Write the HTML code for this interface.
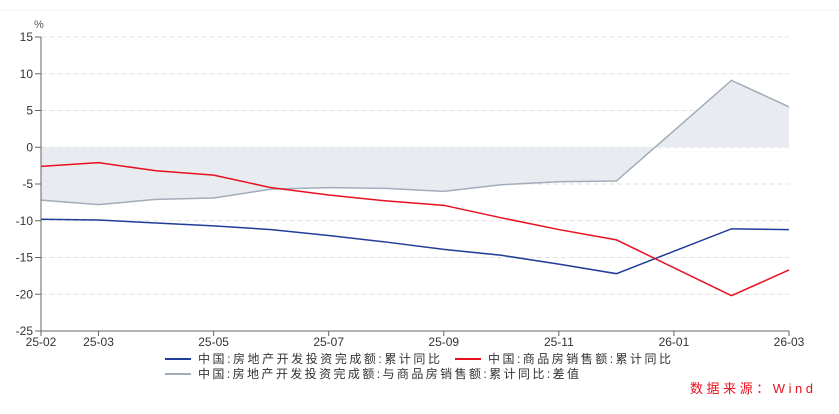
<!DOCTYPE html>
<html><head><meta charset="utf-8"><style>
body{margin:0;background:#fff;}
svg text{font-family:"Liberation Sans","Noto Sans CJK SC",sans-serif;}
</style></head><body>
<svg width="839" height="409" viewBox="0 0 839 409">
<line x1="0" y1="10" x2="839" y2="10" stroke="#f2f2f2"/>
<g id="grid"></g><g id="area"></g><g id="lines"></g><g id="axes"></g>
<text x="34" y="28" font-size="11" fill="#555">%</text>
<line x1="165" y1="359" x2="191" y2="359" stroke="#1f3d99" stroke-width="2"/>
<text x="198" y="363" font-size="12" fill="#333" textLength="242" lengthAdjust="spacing">中国:房地产开发投资完成额:累计同比</text>
<line x1="455" y1="359" x2="481" y2="359" stroke="#e8101f" stroke-width="2"/>
<text x="488" y="363" font-size="12" fill="#333" textLength="183" lengthAdjust="spacing">中国:商品房销售额:累计同比</text>
<line x1="165" y1="374" x2="191" y2="374" stroke="#a3acb9" stroke-width="2"/>
<text x="198" y="378" font-size="12" fill="#333" textLength="381" lengthAdjust="spacing">中国:房地产开发投资完成额:与商品房销售额:累计同比:差值</text>
<text x="690" y="393" font-size="13" fill="#e8101f" textLength="123" lengthAdjust="spacing">数据来源：Wind</text>
</svg>
<script>
const months = ["25-02","25-03","25-04","25-05","25-06","25-07","25-08","25-09","25-10","25-11","25-12","26-02","26-03"];
const monthIndex = [0,1,2,3,4,5,6,7,8,9,10,12,13];
const investment = [-9.8,-9.9,-10.3,-10.7,-11.2,-12.0,-12.9,-13.9,-14.7,-15.9,-17.2,-11.1,-11.2];
const sales = [-2.6,-2.1,-3.2,-3.8,-5.5,-6.5,-7.3,-7.9,-9.6,-11.2,-12.6,-20.2,-16.7];
const difference = [-7.2,-7.8,-7.1,-6.9,-5.7,-5.5,-5.6,-6.0,-5.1,-4.7,-4.6,9.1,5.5];
const yTicks = [15,10,5,0,-5,-10,-15,-20,-25];
const xTickLabels = ["25-02","25-03","25-05","25-07","25-09","25-11","26-01","26-03"];
const xTickIndex = [0,1,3,5,7,9,11,13];

const NS="http://www.w3.org/2000/svg";
const X0=41,X1=789,Y0=37,Y1=331;
const x=i=>X0+(X1-X0)*i/13;
const y=v=>Y0+(15-v)*(Y1-Y0)/40;
function mk(tag,attrs,parent){const e=document.createElementNS(NS,tag);for(const k in attrs)e.setAttribute(k,attrs[k]);document.getElementById(parent).appendChild(e);return e;}

yTicks.forEach(v=>{
  if(v!==-25){const g=mk('line',{x1:X0,x2:X1,y1:y(v),y2:y(v),stroke:'#e3e3e3','stroke-dasharray':'5,3'},'grid');
  
  }
  const t=mk('line',{x1:X0-6,x2:X0,y1:y(v),y2:y(v),stroke:'#666'},'axes');
  
  
  const l=mk('text',{x:X0-8,y:y(v)+4,'text-anchor':'end','font-size':'12',fill:'#333'},'axes');
  l.textContent=v;
  
  
});
const ya=mk('line',{x1:X0,x2:X0,y1:Y0,y2:Y1,stroke:'#666'},'axes');


const xa=mk('line',{x1:X0,x2:X1,y1:Y1,y2:Y1,stroke:'#666'},'axes');


xTickLabels.forEach((s,k)=>{
  const t=mk('line',{x1:x(xTickIndex[k]),x2:x(xTickIndex[k]),y1:Y1,y2:Y1+5,stroke:'#666'},'axes');
  
  
  const l=mk('text',{x:x(xTickIndex[k]),y:Y1+15,'text-anchor':'middle','font-size':'12',fill:'#333'},'axes');
  l.textContent=s;
  
  
});

let d='M'+x(monthIndex[0])+','+y(0);
difference.forEach((v,i)=>{d+=' L'+x(monthIndex[i])+','+y(v);});
d+=' L'+x(monthIndex[monthIndex.length-1])+','+y(0)+' Z';
const ar=mk('path',{d:d,fill:'#e8ebef'},'area');



function line(arr,color,name){
  const p=mk('polyline',{points:arr.map((v,i)=>x(monthIndex[i])+','+y(v)).join(' '),fill:'none',stroke:color,'stroke-width':1.5},'lines');
  
  
}
line(difference,'#a3acb9','difference-line');
line(investment,'#1f3d99','investment-line');
line(sales,'#e8101f','sales-line');
</script>
</body></html>
